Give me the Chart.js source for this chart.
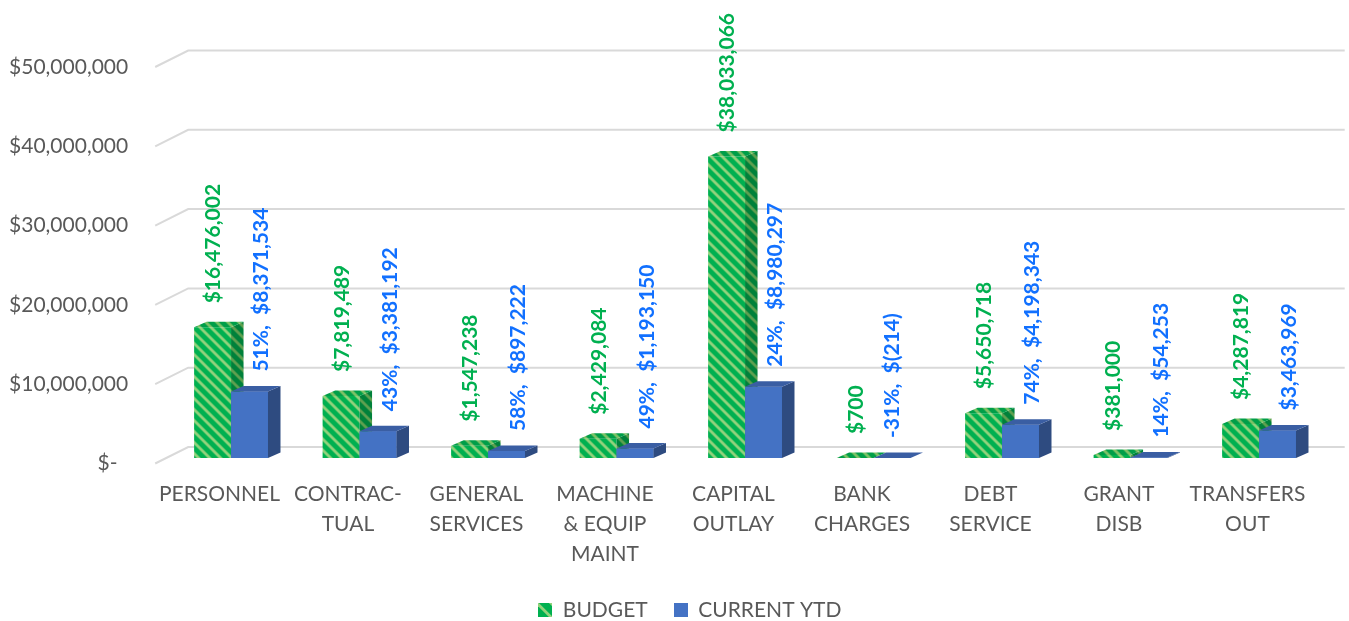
<!DOCTYPE html>
<html>
<head>
<meta charset="utf-8">
<script src="https://cdn.jsdelivr.net/npm/chart.js@4.4.1/dist/chart.umd.min.js"></script>
<style>
  html, body { margin: 0; padding: 0; background: #ffffff; }
  #wrap { width: 1349px; height: 621px; position: relative; }
</style>
</head>
<body>
<div id="wrap"><canvas id="chart"></canvas></div>
<script>
// ---- data ----
const categories = [
  ['PERSONNEL'],
  ['CONTRAC-', 'TUAL'],
  ['GENERAL', 'SERVICES'],
  ['MACHINE', '& EQUIP', 'MAINT'],
  ['CAPITAL', 'OUTLAY'],
  ['BANK', 'CHARGES'],
  ['DEBT', 'SERVICE'],
  ['GRANT', 'DISB'],
  ['TRANSFERS', 'OUT']
];
const seriesNames = ['BUDGET', 'CURRENT YTD'];
const budget = [16476002, 7819489, 1547238, 2429084, 38033066, 700, 5650718, 381000, 4287819];
const currentYtd = [8371534, 3381192, 897222, 1193150, 8980297, -214, 4198343, 54253, 3463969];
const ytdPercent = [51, 43, 58, 49, 24, -31, 74, 14, null];
const axisMin = 0;
const axisMax = 50000000;
const axisStep = 10000000;

// ---- look ----
const FONT = 'Lato';
const TEXT_GREY = '#595959';
const GRID_GREY = '#D9D9D9';
const WALL_DEPTH = { x: 33, y: -16.5 };   // floor depth drawn by the gridlines
const BAR_SHIFT = { x: 11.6, y: -5.5 };   // bars sit a third of the way into the floor
const BAR_DEPTH = { x: 12.5, y: -5.5 };   // thickness of each bar

function stripes(bg, fg, size, band) {
  const c = document.createElement('canvas');
  c.width = size; c.height = size;
  const g = c.getContext('2d');
  g.fillStyle = bg;
  g.fillRect(0, 0, size, size);
  g.fillStyle = fg;
  for (let i = 0; i < size; i++) {
    for (let j = 0; j < size; j++) {
      const d = (((j - i) % size) + size) % size;
      if (d < band) g.fillRect(i, j, 1, 1);
    }
  }
  return c;
}
function solidSwatch(color, size) {
  const c = document.createElement('canvas');
  c.width = size; c.height = size;
  const g = c.getContext('2d');
  g.fillStyle = color;
  g.fillRect(0, 0, size, size);
  return c;
}

const ctx = document.getElementById('chart').getContext('2d');
const greenFront = ctx.createPattern(stripes('#00B050', '#92D27C', 11, 4), 'repeat');
const greenSide = ctx.createPattern(stripes('#00813A', '#5FA050', 11, 4), 'repeat');
const greenTop = ctx.createPattern(stripes('#009E48', '#7DC266', 11, 4), 'repeat');
const faceStyles = [
  { side: greenSide, top: greenTop },
  { side: '#2E4B80', top: '#3A5EA3' }
];
const legendSwatches = [
  stripes('#00B050', '#92D27C', 14, 4),
  solidSwatch('#4472C4', 14)
];

function money(v) {
  const s = Math.abs(v).toLocaleString('en-US');
  return v < 0 ? '$(' + s + ')' : '$' + s;
}

function drawFaces(c, el, style) {
  const p = el.getProps(['x', 'y', 'base', 'width'], true);
  const left = p.x - p.width / 2, right = p.x + p.width / 2;
  const top = Math.min(p.y, p.base), bottom = Math.max(p.y, p.base);
  const dx = BAR_DEPTH.x, dy = BAR_DEPTH.y;
  c.fillStyle = style.side;
  c.beginPath();
  c.moveTo(right, top);
  c.lineTo(right + dx, top + dy);
  c.lineTo(right + dx, bottom + dy);
  c.lineTo(right, bottom);
  c.closePath();
  c.fill();
  c.fillStyle = style.top;
  c.beginPath();
  c.moveTo(left, top);
  c.lineTo(left + dx, top + dy);
  c.lineTo(right + dx, top + dy);
  c.lineTo(right, top);
  c.closePath();
  c.fill();
}

// gridlines on the floor edge and back wall, then 3D faces and value labels
const bars3d = {
  id: 'bars3d',
  afterLayout(chart) {
    // legend row placement under the plot
    const lg = chart.legend;
    lg.top += 9.5; lg.bottom += 9.5;
    lg.left += 34; lg.right += 34;
  },
  beforeDatasetsDraw(chart) {
    const { ctx: c, chartArea: a, scales: { y } } = chart;
    c.save();
    c.strokeStyle = GRID_GREY;
    c.lineWidth = 2;
    y.ticks.forEach(t => {
      const py = y.getPixelForValue(t.value);
      c.beginPath();
      c.moveTo(a.left, py);
      c.lineTo(a.left + WALL_DEPTH.x, py + WALL_DEPTH.y);
      c.lineTo(a.right + WALL_DEPTH.x, py + WALL_DEPTH.y);
      c.stroke();
    });
    c.restore();
    c.save();
    c.translate(BAR_SHIFT.x, BAR_SHIFT.y);
  },
  afterDatasetsDraw(chart) {
    const c = chart.ctx;
    const mb = chart.getDatasetMeta(0);
    const my = chart.getDatasetMeta(1);
    for (let i = 0; i < categories.length; i++) {
      drawFaces(c, mb.data[i], faceStyles[0]);
      my.data[i].draw(c);
      drawFaces(c, my.data[i], faceStyles[1]);
    }
    c.restore();

    // rotated value labels
    c.save();
    c.font = 'bold 21px ' + FONT;
    c.textAlign = 'left';
    c.textBaseline = 'middle';
    for (let i = 0; i < categories.length; i++) {
      const b = mb.data[i].getProps(['x', 'y', 'base'], true);
      const bt = Math.min(b.y, b.base) + BAR_SHIFT.y;
      c.fillStyle = '#00B050';
      c.save();
      c.translate(b.x + BAR_SHIFT.x + 1, bt - 24);
      c.rotate(-Math.PI / 2);
      c.fillText(money(budget[i]), 0, 0);
      c.restore();

      const v = my.data[i].getProps(['x', 'y', 'base'], true);
      const vt = Math.min(v.y, v.base) + BAR_SHIFT.y;
      const txt = (ytdPercent[i] !== null ? ytdPercent[i] + '%,  ' : '') + money(currentYtd[i]);
      c.fillStyle = '#1170FF';
      c.save();
      c.translate(v.x + BAR_SHIFT.x + (currentYtd[i] >= 0 ? 12 : 0), vt - 20);
      c.rotate(-Math.PI / 2);
      c.fillText(txt, 0, 0);
      c.restore();
    }
    c.restore();
  }
};

new Chart(ctx, {
  type: 'bar',
  data: {
    labels: categories,
    datasets: [
      {
        label: seriesNames[0],
        data: budget,
        backgroundColor: greenFront,
        borderWidth: 0,
        pointStyle: legendSwatches[0],
        clip: false
      },
      {
        label: seriesNames[1],
        data: currentYtd,
        backgroundColor: '#4472C4',
        borderWidth: 0,
        pointStyle: legendSwatches[1],
        clip: false
      }
    ]
  },
  options: {
    responsive: true,
    maintainAspectRatio: false,
    animation: false,
    events: [],
    layout: { padding: { top: 67, right: 37.3, bottom: 0, left: 0 } },
    datasets: {
      bar: { categoryPercentage: 0.575, barPercentage: 1 }
    },
    scales: {
      x: {
        grid: { display: false, drawTicks: false },
        border: { display: false },
        ticks: {
          color: TEXT_GREY,
          font: { family: FONT, size: 21, lineHeight: '30px' },
          padding: 15.5,
          maxRotation: 0,
          minRotation: 0,
          autoSkip: false
        },
        afterFit(scale) { scale.height = 100.5; }
      },
      y: {
        min: axisMin,
        max: axisMax,
        grid: { display: false, drawTicks: false },
        border: { display: false },
        ticks: {
          stepSize: axisStep,
          color: TEXT_GREY,
          font: { family: FONT, size: 21 },
          padding: 27,
          callback: v => (v === 0 ? '$-  ' : money(v))
        },
        afterFit(scale) { scale.width = 155.2; }
      }
    },
    plugins: {
      legend: {
        position: 'bottom',
        labels: {
          usePointStyle: true,
          boxWidth: 14,
          boxHeight: 14,
          padding: 26,
          color: TEXT_GREY,
          font: { family: FONT, size: 21 }
        }
      },
      tooltip: { enabled: false }
    }
  },
  plugins: [bars3d]
});
</script>
</body>
</html>
